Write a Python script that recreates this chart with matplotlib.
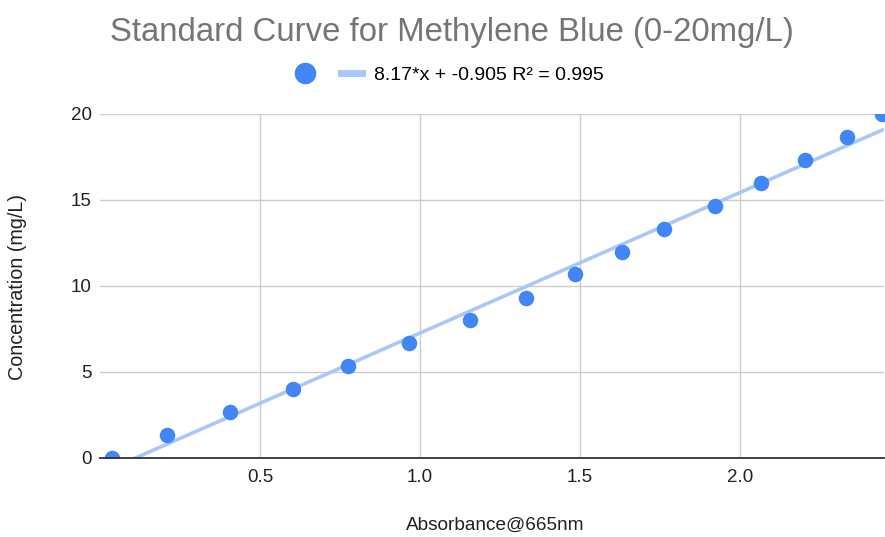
import matplotlib
matplotlib.use("Agg")
import matplotlib.pyplot as plt
from matplotlib.lines import Line2D

plt.rcParams['font.family'] = ['Liberation Sans', 'DejaVu Sans']

# Absorbance readings at 665 nm and the matching methylene blue concentrations
absorbance = [0.038, 0.209, 0.406, 0.603, 0.775, 0.966, 1.156, 1.331,
              1.484, 1.631, 1.763, 1.922, 2.066, 2.203, 2.334, 2.444]
concentration = [0, 1.33, 2.67, 4, 5.33, 6.67, 8, 9.33,
                 10.67, 12, 13.33, 14.67, 16, 17.33, 18.67, 20]

# Linear trendline reported for the calibration
slope = 8.17
intercept = -0.905
r_squared = 0.995

x_ticks = [0.5, 1.0, 1.5, 2.0]
x_tick_labels = ["0.5", "1.0", "1.5", "2.0"]
y_ticks = [0, 5, 10, 15, 20]

point_color = "#4285F4"
trend_color = "#A9C8F8"
text_color = "#222222"

fig = plt.figure(figsize=(8.85, 5.37), dpi=100)
ax = fig.add_axes([100 / 885, 79 / 537, 784 / 885, 344 / 537])

x_min, x_max = 0.0, 2.45
ax.set_xlim(x_min, x_max)
ax.set_ylim(0, 20)

trend_x = [x_min, x_max]
trend_y = [slope * v + intercept for v in trend_x]
ax.plot(trend_x, trend_y, color=trend_color, lw=2.6, zorder=2, solid_capstyle='butt')
ax.scatter(absorbance, concentration, s=125, color=point_color, zorder=3,
           linewidths=0, clip_on=True)

ax.set_xticks(x_ticks)
ax.set_xticklabels(x_tick_labels)
ax.set_yticks(y_ticks)
ax.grid(True, color="#CCCCCC", lw=1.0, zorder=0)
ax.set_axisbelow(True)
ax.tick_params(axis='both', length=0, labelsize=13.5, colors=text_color)
ax.tick_params(axis='x', pad=8)
ax.tick_params(axis='y', pad=6)

for side in ("top", "right", "left"):
    ax.spines[side].set_visible(False)
ax.spines["bottom"].set_color("#333333")
ax.spines["bottom"].set_linewidth(1.3)
ax.spines["bottom"].set_zorder(4)

fig.text(452 / 885, 1 - 33 / 537, "Standard Curve for Methylene Blue (0-20mg/L)",
         ha="center", va="center", fontsize=23.7, color="#757575")

fig.text(495 / 885, 1 - 525 / 537, "Absorbance@665nm", ha="center", va="center",
         fontsize=13.7, color=text_color)
fig.text(18 / 885, 1 - 287 / 537, "Concentration (mg/L)", ha="center", va="center",
         rotation=90, fontsize=14.2, color=text_color)

handles = [
    Line2D([], [], marker='o', ls='none', color=point_color, markersize=14.5),
    Line2D([], [], color=trend_color, lw=5),
]
labels = ["", f"{slope}*x + {intercept} R\u00b2 = {r_squared}"]
fig.legend(handles, labels, loc="center", bbox_to_anchor=(449 / 885, 1 - 75 / 537),
           ncol=2, frameon=False, fontsize=14, handlelength=1.1, handletextpad=0.6,
           columnspacing=0.7)

fig.savefig("out.png", dpi=100)
